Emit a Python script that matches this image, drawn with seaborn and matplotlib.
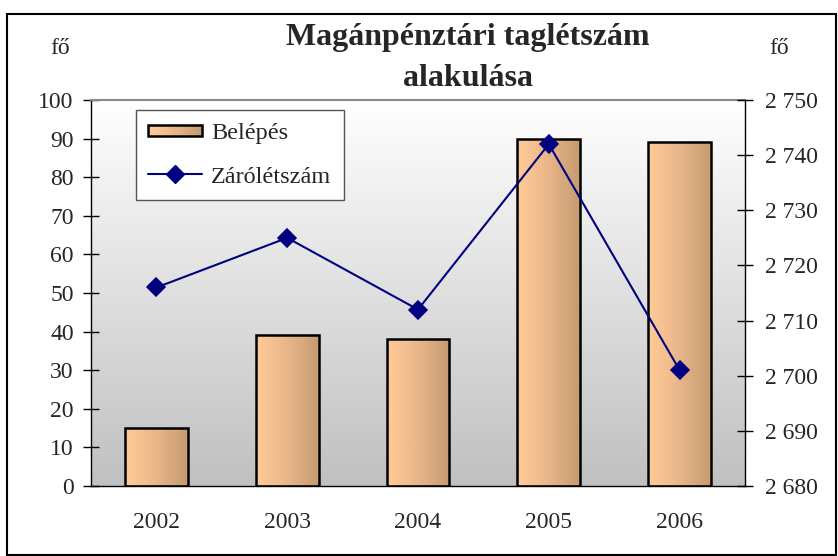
import numpy as np
import seaborn as sns
import matplotlib.pyplot as plt
from matplotlib.patches import Rectangle
from matplotlib.lines import Line2D
from matplotlib.image import BboxImage
from matplotlib.transforms import Bbox, TransformedBbox
from matplotlib.legend_handler import HandlerBase
from matplotlib.colors import LinearSegmentedColormap
from matplotlib.ticker import FuncFormatter, MultipleLocator

years = ['2002', '2003', '2004', '2005', '2006']
belepes = [15, 39, 38, 90, 89]
zarolétszám = [2716, 2725, 2712, 2742, 2701]

sns.set_style('white')
plt.rcParams['font.family'] = ['Liberation Serif', 'DejaVu Serif']

bar_cmap = LinearSegmentedColormap.from_list('bar', ['#FECB98', '#F2BE8F', '#DDAD82', '#C59B71'])
bg_cmap = LinearSegmentedColormap.from_list('bg', ['#FFFFFF', '#C0C0C0'])

W, H = 838, 556
fig = plt.figure(figsize=(W / 100, H / 100), dpi=100)
ax = fig.add_axes([91 / W, 1 - 486 / H, 654 / W, 386 / H])

sns.barplot(x=years, y=belepes, ax=ax, width=0.48, color='#E0B088',
            edgecolor='black', linewidth=1.8)

# gradient fill on each bar
grad = np.linspace(0, 1, 256).reshape(1, -1)
for p in ax.patches:
    x0, y0 = p.get_x(), p.get_y()
    w, h = p.get_width(), p.get_height()
    im = ax.imshow(grad, cmap=bar_cmap, extent=[x0, x0 + w, y0, y0 + h],
                   aspect='auto', zorder=2, interpolation='bicubic')
    im.set_clip_path(p)
    p.set_facecolor('none')
    p.set_zorder(3)

# plot area background gradient (white top -> grey bottom)
ax.imshow(np.linspace(0, 1, 256).reshape(-1, 1), cmap=bg_cmap,
          extent=[-0.5, 4.5, 0, 100], aspect='auto', zorder=0)
ax.set_xlim(-0.5, 4.5)
ax.set_ylim(0, 100)

ax2 = ax.twinx()
sns.pointplot(x=years, y=zarolétszám, ax=ax2, color='#000080', markers='D',
              markersize=9, linewidth=1.5)
ax2.set_ylim(2680, 2750)
ax2.set_xlim(-0.5, 4.5)

# axes styling
ax.yaxis.set_major_locator(MultipleLocator(10))
ax2.yaxis.set_major_locator(MultipleLocator(10))
ax2.yaxis.set_major_formatter(FuncFormatter(lambda v, _: f'{int(v):,}'.replace(',', ' ')))

ax.set_xticks(range(5))
ax.set_xticklabels(years)
ax.set_xticks(np.arange(-0.5, 5, 1), minor=True)
ax.tick_params(axis='x', which='major', length=0, pad=19, labelsize=17)
ax.tick_params(axis='x', which='minor', length=12, width=1, direction='inout', color='black')
ax.tick_params(axis='y', length=11, width=1, direction='inout', color='black',
               labelsize=17, pad=7, left=True)
ax2.tick_params(axis='y', length=11, width=1, direction='inout', color='black',
                labelsize=17, pad=9, right=True)
ax.set_xlabel('')
ax.set_ylabel('')
ax2.set_xlabel('')
ax2.set_ylabel('')

for s in ['left', 'bottom']:
    ax.spines[s].set_color('black')
    ax.spines[s].set_linewidth(1)
ax.spines['top'].set_color('#8A8A8A')
ax.spines['top'].set_linewidth(1.5)
ax.spines['right'].set_visible(False)
ax2.spines['right'].set_color('black')
ax2.spines['right'].set_linewidth(1)
for s in ['top', 'left', 'bottom']:
    ax2.spines[s].set_visible(False)


# legend with gradient patch
class GradientHandler(HandlerBase):
    def create_artists(self, legend, orig_handle, xdescent, ydescent,
                       width, height, fontsize, trans):
        hh = height * 0.62
        y = -ydescent + (height - hh) / 2
        bb = TransformedBbox(Bbox.from_bounds(-xdescent, y, width, hh), trans)
        img = BboxImage(bb, cmap=bar_cmap, interpolation='bicubic')
        img.set_data(grad)
        edge = Rectangle((-xdescent, y), width, hh, facecolor='none',
                         edgecolor='black', linewidth=1.8, transform=trans)
        return [img, edge]


bar_handle = Rectangle((0, 0), 1, 1)
line_handle = Line2D([], [], color='#000080', marker='D', markersize=9, linewidth=1.5)
leg = ax2.legend([bar_handle, line_handle], ['Belépés', 'Zárólétszám'],
                 handler_map={Rectangle: GradientHandler()},
                 loc='upper left', bbox_to_anchor=(45 / 654, 376 / 386), fontsize=17.5,
                 frameon=True, fancybox=False, edgecolor='#555555',
                 framealpha=1, handlelength=2.2, handletextpad=0.4,
                 labelspacing=0.88, borderpad=0.5, borderaxespad=0)
leg.get_frame().set_linewidth(1)

# titles and unit labels
fig.text(468 / W, 1 - 45 / H, 'Magánpénztári taglétszám', ha='center', va='baseline',
         fontsize=23, fontweight='bold')
fig.text(468 / W, 1 - 86 / H, 'alakulása', ha='center', va='baseline',
         fontsize=23, fontweight='bold')
fig.text(60 / W, 1 - 49 / H, 'fő', ha='center', va='center', fontsize=17)
fig.text(779 / W, 1 - 49 / H, 'fő', ha='center', va='center', fontsize=17)

# outer chart border
fig.add_artist(Rectangle((7 / W, 1 / H), 829 / W, 541 / H,
                         transform=fig.transFigure, fill=False,
                         edgecolor='black', linewidth=1.5))

fig.savefig('out.png', dpi=100)
